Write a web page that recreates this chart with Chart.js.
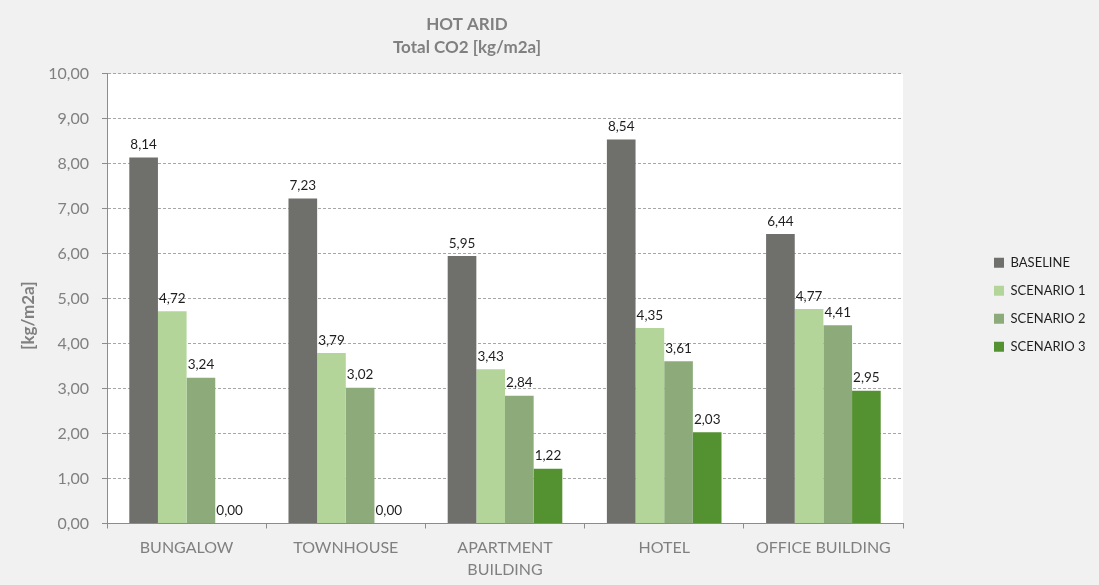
<!DOCTYPE html>
<html lang="en">
<head>
  <meta charset="UTF-8">
  <title>Hot Arid - Total CO2</title>
  <script src="https://cdn.jsdelivr.net/npm/chart.js"></script>
  <style>
    html, body { margin: 0; padding: 0; background: #f1f1f1; }
    #wrap { width: 1099px; height: 585px; }
  </style>
</head>
<body>
  <div id="wrap"><canvas id="co2Chart" width="1099" height="585"></canvas></div>
  <script>
    // chart data
    const titleLines = ['HOT ARID', 'Total CO2 [kg/m2a]'];
    const yAxisTitle = '[kg/m2a]';
    const categories = ['BUNGALOW', 'TOWNHOUSE', ['APARTMENT', 'BUILDING'], 'HOTEL', 'OFFICE BUILDING'];
    const seriesNames = ['BASELINE', 'SCENARIO 1', 'SCENARIO 2', 'SCENARIO 3'];
    const baseline = [8.14, 7.23, 5.95, 8.54, 6.44];
    const scenario1 = [4.72, 3.79, 3.43, 4.35, 4.77];
    const scenario2 = [3.24, 3.02, 2.84, 3.61, 4.41];
    const scenario3 = [0.00, 0.00, 1.22, 2.03, 2.95];
    const yMin = 0, yMax = 10, yStep = 1;

    const colors = ['#6f6f6c', '#b3d59a', '#8dab7a', '#549130'];
    const gray = '#808080';
    const axisGray = '#8c8c8c';

    function fmt(v) {
      return v.toFixed(2).replace('.', ',');
    }

    Chart.defaults.font.family = 'Lato, "Open Sans", sans-serif';

    // plot background: grey page, white plot area
    const plotBg = {
      id: 'plotBg',
      beforeDraw(chart) {
        const {ctx, chartArea: a} = chart;
        ctx.save();
        ctx.fillStyle = '#f1f1f1';
        ctx.fillRect(0, 0, chart.width, chart.height);
        ctx.fillStyle = '#ffffff';
        ctx.fillRect(a.left, a.top, a.right - a.left, a.bottom - a.top);
        ctx.restore();
      }
    };

    // value labels above each bar
    const valueLabels = {
      id: 'valueLabels',
      afterDatasetsDraw(chart) {
        const ctx = chart.ctx;
        ctx.save();
        ctx.font = '13.5px Lato, sans-serif';
        ctx.fillStyle = '#1e1e1e';
        ctx.textAlign = 'center';
        ctx.textBaseline = 'bottom';
        chart.data.datasets.forEach((ds, i) => {
          chart.getDatasetMeta(i).data.forEach((bar, j) => {
            ctx.fillText(fmt(ds.data[j]), bar.x, bar.y - 6);
          });
        });
        ctx.restore();
      }
    };

    // Excel-like placement: legend far right, title centred left of the legend,
    // axis title a little below the middle of the axis
    const placeBoxes = {
      id: 'placeBoxes',
      beforeInit(chart) {
        const fit = chart.legend.fit;
        chart.legend.fit = function () {
          fit.call(this);
          this.width = 196;
        };
      },
      afterLayout(chart) {
        chart.legend.left = 979;
        chart.legend.top += 24.5;
        chart.titleBlock.right = 934;
        const y = chart.scales.y;
        if (!y._shifted) {
          const drawTitle = y.drawTitle;
          y.drawTitle = function () {
            this.ctx.save();
            this.ctx.translate(0, 17);
            drawTitle.call(this);
            this.ctx.restore();
          };
          y._shifted = true;
        }
      }
    };

    const ctx = document.getElementById('co2Chart').getContext('2d');
    new Chart(ctx, {
      type: 'bar',
      data: {
        labels: categories,
        datasets: [
          { label: seriesNames[0], data: baseline, backgroundColor: colors[0] },
          { label: seriesNames[1], data: scenario1, backgroundColor: colors[1] },
          { label: seriesNames[2], data: scenario2, backgroundColor: colors[2] },
          { label: seriesNames[3], data: scenario3, backgroundColor: colors[3] }
        ]
      },
      options: {
        responsive: false,
        animation: false,
        layout: { padding: 0 },
        datasets: {
          bar: { categoryPercentage: 0.72, barPercentage: 1.0, borderWidth: 0 }
        },
        plugins: {
          title: {
            display: true,
            text: titleLines,
            color: gray,
            font: { size: 17, weight: 'bold', lineHeight: 1.35 },
            padding: { top: 13.5, bottom: 14.5 }
          },
          legend: {
            position: 'right',
            labels: {
              boxWidth: 10,
              boxHeight: 10,
              padding: 15,
              color: '#1e1e1e',
              font: { size: 13 }
            }
          },
          tooltip: { enabled: false }
        },
        scales: {
          x: {
            afterFit(scale) { scale.height = 61.5; },
            grid: {
              offset: true,
              drawOnChartArea: false,
              drawTicks: true,
              tickLength: 5,
              tickColor: axisGray
            },
            border: { color: axisGray, width: 1 },
            ticks: {
              color: gray,
              font: { size: 16, lineHeight: 1.375 },
              padding: 8.5,
              maxRotation: 0,
              autoSkip: false
            }
          },
          y: {
            min: yMin,
            max: yMax,
            afterFit(scale) { scale.width = 107; },
            grid: {
              color: '#a6a6a6',
              lineWidth: 1,
              tickLength: 5,
              tickColor: axisGray,
              tickBorderDash: []
            },
            border: { color: axisGray, width: 1, dash: [3, 2] },
            ticks: {
              stepSize: yStep,
              color: gray,
              font: { size: 16 },
              padding: 13,
              callback: v => fmt(v)
            },
            title: {
              display: true,
              text: yAxisTitle,
              color: gray,
              font: { size: 17, weight: 'bold', lineHeight: 1.2 },
              padding: { top: 18.8, bottom: 0 }
            }
          }
        }
      },
      plugins: [plotBg, valueLabels, placeBoxes]
    });
  </script>
</body>
</html>
